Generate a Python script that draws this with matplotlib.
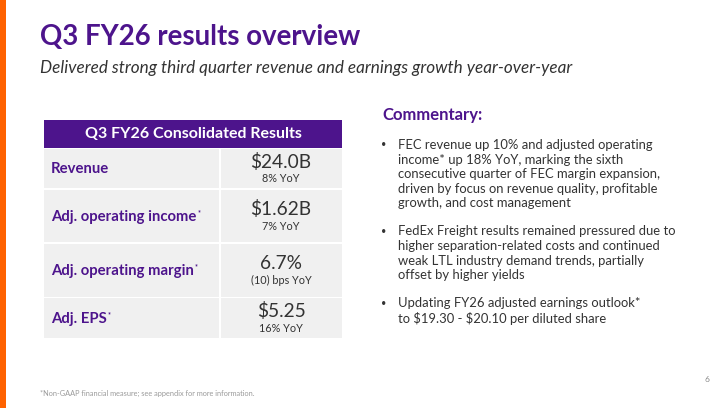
import matplotlib
matplotlib.use("Agg")
import matplotlib.pyplot as plt
from matplotlib.patches import Rectangle

# ---- data ----
title = "Q3 FY26 results overview"
subtitle = "Delivered strong third quarter revenue and earnings growth year-over-year"
table_header = "Q3 FY26 Consolidated Results"
metrics = ["Revenue", "Adj. operating income", "Adj. operating margin", "Adj. EPS"]
metric_star = [False, True, True, True]
values = ["$24.0B", "$1.62B", "6.7%", "$5.25"]
yoy = ["8% YoY", "7% YoY", "(10) bps YoY", "16% YoY"]
commentary_title = "Commentary:"
bullets = [
    ["FEC revenue up 10% and adjusted operating",
     "income* up 18% YoY, marking the sixth",
     "consecutive quarter of FEC margin expansion,",
     "driven by focus on revenue quality, profitable",
     "growth, and cost management"],
    ["FedEx Freight results remained pressured due to",
     "higher separation-related costs and continued",
     "weak LTL industry demand trends, partially",
     "offset by higher yields"],
    ["Updating FY26 adjusted earnings outlook*",
     "to $19.30 - $20.10 per diluted share"],
]
footnote = "*Non-GAAP financial measure; see appendix for more information."
page_no = "6"

# ---- style ----
PURPLE = "#4D148C"
ORANGE = "#FF6200"
DARK = "#333333"
CELL = "#F0F0F0"
FONT = ["Lato", "DejaVu Sans"]

W, H = 724, 408
fig = plt.figure(figsize=(W / 100, H / 100), dpi=100)
fig.patch.set_facecolor("white")
ax = fig.add_axes([0, 0, 1, 1])
ax.set_xlim(0, W)
ax.set_ylim(H, 0)
ax.axis("off")

def txt(x, y, s, **kw):
    kw.setdefault("family", FONT)
    return ax.text(x, y, s, parse_math=False, **kw)

# orange side bar
ax.add_patch(Rectangle((0, 0), 6, H, color=ORANGE, lw=0))

# title & subtitle
txt(40, 37, title, fontsize=19.9, fontweight="bold", color=PURPLE, va="center", ha="left")
txt(40, 68.5, subtitle, fontsize=12.3, style="italic", color=DARK, va="center", ha="left")

# table
x0, xs, x1 = 44, 220, 342
ax.add_patch(Rectangle((x0, 120), x1 - x0, 27.5, color=PURPLE, lw=0))
txt((x0 + x1) / 2, 134.5, table_header, fontsize=11.5, fontweight="bold", color="white",
    ha="center", va="center")

rows = [(148.5, 188), (189.5, 242), (243.5, 296.5), (298, 337.5)]
fig.canvas.draw()
renderer = fig.canvas.get_renderer()
for i, (ya, yb) in enumerate(rows):
    ax.add_patch(Rectangle((x0, ya), xs - 1 - x0, yb - ya, color=CELL, lw=0))
    ax.add_patch(Rectangle((xs + 1, ya), x1 - xs - 1, yb - ya, color=CELL, lw=0))
    ym = (ya + yb) / 2
    t = txt(51, ym + 1, metrics[i], fontsize=10.7, fontweight="bold", color=PURPLE,
            ha="left", va="center")
    if metric_star[i]:
        bb = t.get_window_extent(renderer=renderer)
        xe = bb.x1  # pixel coords equal data x here
        txt(xe + 0.8, ym - 3.5, "*", fontsize=5, fontweight="bold", color=PURPLE,
            ha="left", va="center")
    cx = (xs + x1) / 2
    txt(cx, ym - 6.5, values[i], fontsize=13.8, color=DARK, ha="center", va="center")
    txt(cx, ym + 10.5, yoy[i], fontsize=7.8, color=DARK, ha="center", va="center")

# commentary
txt(382, 115, commentary_title, fontsize=12, fontweight="bold", color=PURPLE, ha="left", va="center")
y = 145
lh = 14.6
for b in bullets:
    txt(384, y, "•", fontsize=6.5, color=DARK, ha="center", va="center")
    for line in b:
        txt(398, y, line, fontsize=9.4, color=DARK, ha="left", va="center")
        y += lh
    y += 13.5

# footnote and page number
txt(40, 393, footnote, fontsize=5.3, color="#9A9A9A", ha="left", va="center")
txt(707, 379, page_no, fontsize=6, color="#8A8A8A", ha="center", va="center")

fig.savefig("out.png", dpi=100, facecolor="white")
